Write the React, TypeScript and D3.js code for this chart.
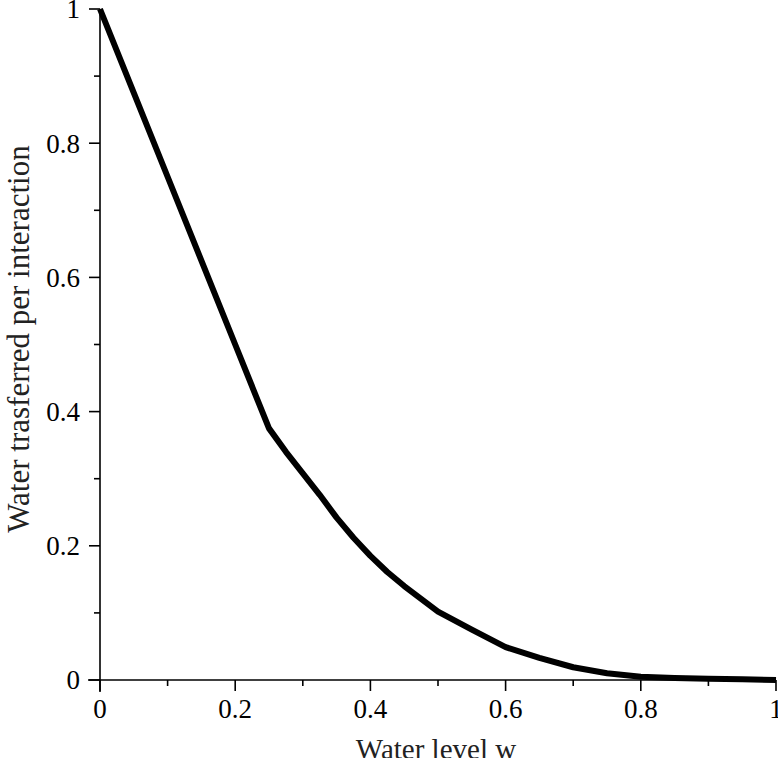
import React from "react";
import * as d3 from "d3";

// water level w
const levels = [
  0, 0.05, 0.1, 0.15, 0.2, 0.25, 0.275, 0.3, 0.325, 0.35, 0.375, 0.4, 0.425, 0.45,
  0.5, 0.55, 0.6, 0.65, 0.7, 0.75, 0.8, 0.85, 0.9, 0.95, 1,
];
// water transferred per interaction
const transferred = [
  1, 0.875, 0.75, 0.625, 0.5, 0.375, 0.34, 0.308, 0.276, 0.242, 0.212, 0.185, 0.161,
  0.14, 0.102, 0.075, 0.049, 0.033, 0.019, 0.01, 0.005, 0.003, 0.002, 0.001, 0,
];
const majorTicks = [0, 0.2, 0.4, 0.6, 0.8, 1];
const tickLabels = ["0", "0.2", "0.4", "0.6", "0.8", "1"];
const minorTicks = [0.1, 0.3, 0.5, 0.7, 0.9];

const W = 778,
  H = 758;

const font = "Liberation Serif";

const App = () => {
  const x = d3.scaleLinear().domain([0, 1]).range([100, 776]);
  const y = d3.scaleLinear().domain([0, 1]).range([680, 9]);

  const line = d3
    .line<number>()
    .x((d, i) => x(levels[i]))
    .y((d) => y(d));

  return (
    <svg
      width={W}
      height={H}
      style={{ position: "absolute", left: 0, top: 0, background: "#fff" }}
    >
      {/* axis lines */}
      <line x1={x(0) - 12} x2={x(1)} y1={y(0)} y2={y(0)} stroke="#000" strokeWidth={1.6} />
      <line x1={x(0)} x2={x(0)} y1={y(1)} y2={y(0) + 12} stroke="#000" strokeWidth={1.6} />

      {/* x ticks */}
      {majorTicks.map((t, i) => (
        <g key={"xt" + i}>
          <line x1={x(t)} x2={x(t)} y1={y(0)} y2={y(0) + 11} stroke="#000" strokeWidth={1.6} />
          <text x={x(t)} y={718} textAnchor="middle" fontFamily={font} fontSize={27} fill="#000">
            {tickLabels[i]}
          </text>
        </g>
      ))}
      {minorTicks.map((t, i) => (
        <line key={"xm" + i} x1={x(t)} x2={x(t)} y1={y(0)} y2={y(0) + 6} stroke="#000" strokeWidth={1.6} />
      ))}

      {/* y ticks */}
      {majorTicks.map((t, i) => (
        <g key={"yt" + i}>
          <line x1={x(0) - 11} x2={x(0)} y1={y(t)} y2={y(t)} stroke="#000" strokeWidth={1.6} />
          <text x={80} y={y(t)} dy="0.35em" textAnchor="end" fontFamily={font} fontSize={27} fill="#000">
            {tickLabels[i]}
          </text>
        </g>
      ))}
      {minorTicks.map((t, i) => (
        <line key={"ym" + i} x1={x(0) - 6} x2={x(0)} y1={y(t)} y2={y(t)} stroke="#000" strokeWidth={1.6} />
      ))}

      {/* curve */}
      <path
        d={line(transferred) || ""}
        fill="none"
        stroke="#000"
        strokeWidth={6}
        strokeLinejoin="round"
      />

      {/* axis titles */}
      <text x={436} y={759} textAnchor="middle" fontFamily={font} fontSize={29} fill="#222">
        Water level w
      </text>
      <text
        transform="translate(29,339) rotate(-90)"
        textAnchor="middle"
        fontFamily={font}
        fontSize={31}
        fill="#222"
      >
        Water trasferred per interaction
      </text>
    </svg>
  );
};

export default App;
